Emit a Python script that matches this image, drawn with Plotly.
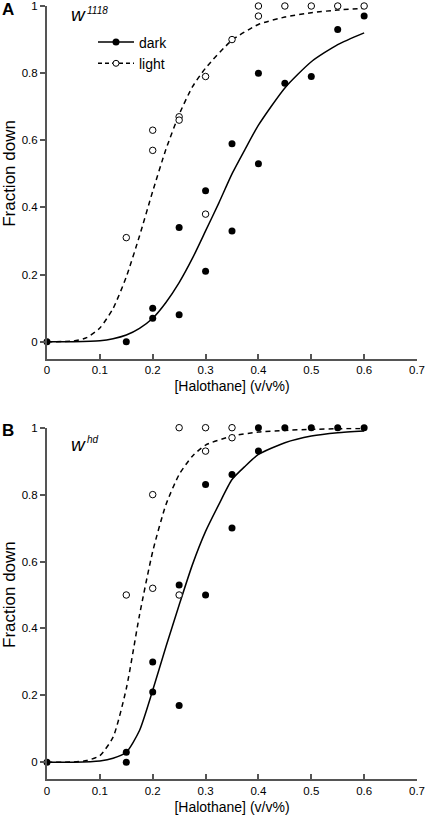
import plotly.graph_objects as go

# ---------------- data ----------------
# Panel A : w1118
a_dark_x = [0, 0.15, 0.2, 0.2, 0.25, 0.25, 0.3, 0.3, 0.35, 0.35, 0.4, 0.4, 0.45, 0.5, 0.55, 0.6]
a_dark_y = [0, 0, 0.10, 0.07, 0.34, 0.08, 0.45, 0.21, 0.59, 0.33, 0.80, 0.53, 0.77, 0.79, 0.93, 0.97]
a_light_x = [0.15, 0.2, 0.2, 0.25, 0.25, 0.3, 0.3, 0.35, 0.4, 0.4, 0.45, 0.5, 0.55, 0.6]
a_light_y = [0.31, 0.63, 0.57, 0.67, 0.66, 0.79, 0.38, 0.90, 1.0, 0.97, 1.0, 1.0, 1.0, 1.0]

a_dark_fit_x = [0, 0.05, 0.1, 0.125, 0.15, 0.175, 0.2, 0.225, 0.25, 0.275, 0.3, 0.325, 0.35, 0.375, 0.4, 0.45, 0.5, 0.55, 0.6]
a_dark_fit_y = [0, 0.0002, 0.003, 0.009, 0.02, 0.04, 0.07, 0.117, 0.176, 0.248, 0.33, 0.413, 0.50, 0.574, 0.645, 0.756, 0.834, 0.885, 0.92]
a_light_fit_x = [0, 0.05, 0.075, 0.1, 0.125, 0.15, 0.175, 0.2, 0.225, 0.25, 0.275, 0.3, 0.35, 0.4, 0.45, 0.5, 0.55, 0.6]
a_light_fit_y = [0, 0.002, 0.012, 0.041, 0.099, 0.193, 0.315, 0.448, 0.573, 0.677, 0.759, 0.815, 0.898, 0.945, 0.967, 0.98, 0.988, 0.993]

# Panel B : whd
b_dark_x = [0, 0.15, 0.15, 0.2, 0.2, 0.25, 0.25, 0.3, 0.3, 0.35, 0.35, 0.4, 0.4, 0.45, 0.5, 0.55, 0.6]
b_dark_y = [0, 0.03, 0, 0.30, 0.21, 0.17, 0.53, 0.50, 0.83, 0.86, 0.70, 0.93, 1.0, 1.0, 1.0, 1.0, 1.0]
b_light_x = [0.15, 0.2, 0.2, 0.25, 0.25, 0.3, 0.3, 0.35, 0.35]
b_light_y = [0.50, 0.80, 0.52, 1.0, 0.50, 1.0, 0.93, 1.0, 0.97]

b_dark_fit_x = [0, 0.05, 0.1, 0.125, 0.15, 0.175, 0.2, 0.225, 0.25, 0.275, 0.3, 0.325, 0.35, 0.375, 0.4, 0.45, 0.5, 0.55, 0.6]
b_dark_fit_y = [0, 0.0003, 0.004, 0.012, 0.03, 0.095, 0.215, 0.345, 0.47, 0.59, 0.69, 0.77, 0.845, 0.885, 0.92, 0.955, 0.975, 0.985, 0.99]
b_light_fit_x = [0, 0.05, 0.075, 0.1, 0.125, 0.15, 0.175, 0.2, 0.225, 0.25, 0.275, 0.3, 0.35, 0.4, 0.45, 0.5, 0.55, 0.6]
b_light_fit_y = [0, 0.001, 0.005, 0.02, 0.075, 0.22, 0.44, 0.63, 0.77, 0.86, 0.915, 0.948, 0.975, 0.987, 0.992, 0.995, 0.997, 0.998]

x_ticks = [0, 0.1, 0.2, 0.3, 0.4, 0.5, 0.6, 0.7]
x_tick_labels = ["0", "0.1", "0.2", "0.3", "0.4", "0.5", "0.6", "0.7"]
y_ticks = [0, 0.2, 0.4, 0.6, 0.8, 1.0]
y_tick_labels = ["0", "0.2", "0.4", "0.6", "0.8", "1"]

series_names = ["dark", "light"]
x_title = "[Halothane] (v/v%)"
y_title = "Fraction down"

# ---------------- figure ----------------
W, H = 427, 823
ML, MR, MT, MB = 47, 10, 6, 44
PW, PH = W - ML - MR, H - MT - MB


def px(xp):
    return (xp - ML) / PW


def py(yp):
    return (H - MB - yp) / PH


FONT = "Liberation Sans, Arial, Helvetica, sans-serif"
AX = "#555555"

fig = go.Figure()

panels = [
    ("x", "y", a_dark_x, a_dark_y, a_light_x, a_light_y,
     a_dark_fit_x, a_dark_fit_y, a_light_fit_x, a_light_fit_y),
    ("x2", "y2", b_dark_x, b_dark_y, b_light_x, b_light_y,
     b_dark_fit_x, b_dark_fit_y, b_light_fit_x, b_light_fit_y),
]

for xa, ya, dx, dy, lx, ly, dfx, dfy, lfx, lfy in panels:
    fig.add_trace(go.Scatter(x=lfx, y=lfy, mode="lines", xaxis=xa, yaxis=ya,
                             line=dict(color="black", width=1.5, dash="5px,4px", shape="spline", smoothing=0.6),
                             showlegend=False, hoverinfo="skip"))
    fig.add_trace(go.Scatter(x=dfx, y=dfy, mode="lines", xaxis=xa, yaxis=ya,
                             line=dict(color="black", width=1.5, shape="spline", smoothing=0.6),
                             showlegend=False, hoverinfo="skip"))
    fig.add_trace(go.Scatter(x=lx, y=ly, mode="markers", xaxis=xa, yaxis=ya, cliponaxis=False,
                             marker=dict(symbol="circle", size=6.5, color="white",
                                         line=dict(color="black", width=1)),
                             showlegend=False))
    fig.add_trace(go.Scatter(x=dx, y=dy, mode="markers", xaxis=xa, yaxis=ya, cliponaxis=False,
                             marker=dict(symbol="circle", size=7, color="black",
                                         line=dict(color="black", width=0)),
                             showlegend=False))

# legend entries
fig.add_trace(go.Scatter(x=[None], y=[None], mode="lines+markers", name=series_names[0],
                         line=dict(color="black", width=1.5),
                         marker=dict(size=7, color="black")))
fig.add_trace(go.Scatter(x=[None], y=[None], mode="lines+markers", name=series_names[1],
                         line=dict(color="black", width=1.5, dash="4px,3px"),
                         marker=dict(size=6, color="white", line=dict(color="black", width=1))))

xax = dict(range=[0, 0.7], tickvals=x_ticks, ticktext=x_tick_labels, ticks="inside",
           ticklen=5, tickwidth=1.5, tickcolor=AX, showline=True, linecolor=AX, linewidth=2,
           showgrid=False, zeroline=False, tickfont=dict(size=11.5, color="black"),
           automargin=False,
           title=dict(text=x_title, font=dict(size=14, color="black"), standoff=6))
yax = dict(range=[-0.05, 1.0], tickvals=y_ticks, ticktext=y_tick_labels, ticks="outside",
           ticklen=5, tickwidth=1.5, tickcolor=AX, showline=True, linecolor=AX, linewidth=2,
           showgrid=False, zeroline=False, tickfont=dict(size=11.5, color="black"),
           automargin=False)

top_bottom = (H - MB - 358.5) / PH
bot_top = (H - MB - 427.7) / PH

fig.update_layout(
    width=W, height=H,
    margin=dict(l=ML, r=MR, t=MT, b=MB),
    paper_bgcolor="white", plot_bgcolor="white",
    font=dict(family=FONT, color="black"),
    xaxis=dict(xax, domain=[0, 1], anchor="y"),
    yaxis=dict(yax, domain=[top_bottom, 1], anchor="x"),
    xaxis2=dict(xax, domain=[0, 1], anchor="y2"),
    yaxis2=dict(yax, domain=[0, bot_top], anchor="x2"),
    legend=dict(x=px(93), y=py(53), xanchor="left", yanchor="middle",
                font=dict(size=14, color="black"), bgcolor="rgba(0,0,0,0)",
                itemwidth=36, tracegroupgap=0),
    showlegend=True,
)

ann = []
# panel letters
ann.append(dict(text="<b>A</b>", x=px(8), y=py(10), xref="paper", yref="paper",
                showarrow=False, font=dict(size=17), xanchor="center", yanchor="middle"))
ann.append(dict(text="<b>B</b>", x=px(8), y=py(430), xref="paper", yref="paper",
                showarrow=False, font=dict(size=17), xanchor="center", yanchor="middle"))
# genotype labels
ann.append(dict(text="<i>w</i>", x=px(78), y=py(14), xref="paper", yref="paper",
                showarrow=False, font=dict(size=19), xanchor="center", yanchor="middle"))
ann.append(dict(text="<i>1118</i>", x=px(85), y=py(11), xref="paper", yref="paper",
                showarrow=False, font=dict(size=10), xanchor="left", yanchor="middle"))
ann.append(dict(text="<i>w</i>", x=px(78), y=py(444), xref="paper", yref="paper",
                showarrow=False, font=dict(size=19), xanchor="center", yanchor="middle"))
ann.append(dict(text="<i>hd</i>", x=px(85), y=py(439), xref="paper", yref="paper",
                showarrow=False, font=dict(size=10), xanchor="left", yanchor="middle"))
# y titles
for yr in ["y", "y2"]:
    ann.append(dict(text=y_title, x=px(10), y=0.5, xref="paper", yref=yr, textangle=-90,
                    showarrow=False, font=dict(size=17), xanchor="center", yanchor="middle"))
fig.update_layout(annotations=ann)

fig.write_html("out.html", config={"displayModeBar": False},
               post_script="document.body.style.margin='0';document.body.style.overflow='hidden';")
